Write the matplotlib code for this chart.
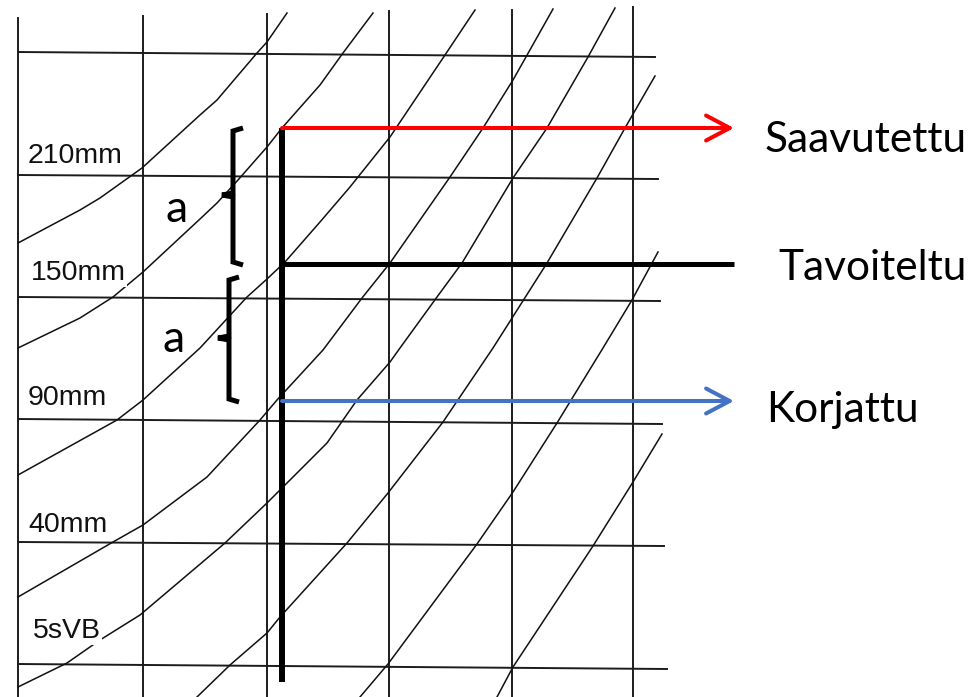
import matplotlib
matplotlib.use('Agg')
import matplotlib.pyplot as plt

# Scanned sizing chart (x to the right, y downwards)
grid_x = [18, 143, 267, 389, 512, 633]
grid_x_top = [18, 16, 14, 11, 10, 7]
grid_y_left = [52, 175, 297, 419, 542, 664]
grid_y_right = [57, 179, 301, 424, 546, 669]
grid_x_right = [655, 658, 660, 662, 664, 667]

row_labels = ['210mm', '150mm', '90mm', '40mm', '5sVB']
row_label_x = [28, 31, 28, 28, 33]
row_label_base = [163, 280, 405, 532, 638]

curve_x = [
    [18, 80, 100, 142, 200, 217, 257, 267, 287],
    [18, 80, 113, 143, 200, 217, 238, 267, 282, 320, 343, 373],
    [18, 117, 143, 200, 247, 267, 285, 320, 350, 390, 445, 475],
    [18, 113, 143, 207, 260, 277, 323, 362, 390, 450, 483, 513, 553],
    [18, 67, 100, 140, 225, 267, 280, 327, 357, 390, 400, 437, 462, 513,
     547, 588, 615],
    [197, 230, 267, 280, 347, 388, 443, 493, 547, 597, 625, 655],
    [360, 388, 477, 513, 557, 603, 632, 658],
    [497, 513, 593, 633, 662],
]
curve_y = [
    [243, 210, 198, 168, 115, 100, 53, 42, 13],
    [348, 318, 297, 272, 219, 203, 180, 147, 128, 85, 53, 13],
    [475, 420, 400, 348, 297, 279, 262, 222, 187, 137, 55, 10],
    [597, 542, 525, 477, 420, 400, 350, 298, 263, 177, 128, 80, 9],
    [687, 663, 640, 615, 543, 503, 490, 443, 400, 362, 348, 297, 263, 178,
     128, 57, 8],
    [697, 665, 633, 617, 543, 493, 422, 348, 263, 178, 128, 76],
    [697, 664, 544, 492, 423, 348, 300, 252],
    [697, 667, 546, 482, 434],
]

# Levels marked on the chart
level_x0 = 282
level_x1 = 734
level_bottom = 682
achieved_y = 128
target_y = 264
corrected_y = 401
level_names = ['Saavutettu', 'Tavoiteltu', 'Korjattu']
level_text_x = [765, 778, 766]
level_text_base = [152, 280, 422]

# brackets "a": top, middle, bottom
brace_top = [128, 277]
brace_mid = [195, 338]
brace_bot = [265, 402]
brace_x = [233, 229]
a_x = [177, 174]
a_base = [222, 352]

fig = plt.figure(figsize=(9.8, 6.97), dpi=100)
ax = fig.add_axes([0, 0, 1, 1])
ax.set_xlim(0, 980)
ax.set_ylim(697, 0)
ax.axis('off')

grid_col = '#1c1c1c'
for gx, gt in zip(grid_x, grid_x_top):
    ax.plot([gx, gx], [gt, 697], color=grid_col, lw=1.4)
for yl, yr, xr in zip(grid_y_left, grid_y_right, grid_x_right):
    ax.plot([grid_x[0], xr], [yl, yr], color=grid_col, lw=1.4)

for cx, cy in zip(curve_x, curve_y):
    ax.plot(cx, cy, color='#111111', lw=1.1, solid_joinstyle='round')

for lab, lx, lb in zip(row_labels, row_label_x, row_label_base):
    ax.text(lx, lb, lab, fontsize=20.5, family='Liberation Sans',
            va='baseline', ha='left', color='#111111',
            bbox=dict(facecolor='white', edgecolor='none', pad=0.5))

# level lines
ax.plot([level_x0, level_x0], [achieved_y, level_bottom], color='black',
        lw=4.3, solid_capstyle='butt')
ax.plot([level_x0, level_x1], [target_y, target_y], color='black', lw=3.6,
        solid_capstyle='butt')
arrow_style = '->,head_length=0.85,head_width=0.45'
for ly, col in [(achieved_y, '#ff0000'), (corrected_y, '#4472c4')]:
    ax.annotate('', xy=(level_x1, ly), xytext=(level_x0, ly),
                arrowprops=dict(arrowstyle=arrow_style, color=col, lw=2.9,
                                shrinkA=0, shrinkB=0, mutation_scale=20,
                                capstyle='round', joinstyle='round'))

for name, tx, tb in zip(level_names, level_text_x, level_text_base):
    ax.text(tx, tb, name, fontsize=30.5, family='Lato', va='baseline',
            ha='left', color='black')

# brackets with "a"
for bt, bm, bb, bx in zip(brace_top, brace_mid, brace_bot, brace_x):
    ax.plot([bx + 10, bx, bx, bx - 11, bx, bx, bx + 10],
            [bt, bt + 3, bm - 2, bm, bm + 2, bb - 3, bb],
            color='black', lw=3.6, solid_joinstyle='miter',
            solid_capstyle='butt')
for axx, ab in zip(a_x, a_base):
    ax.text(axx, ab, 'a', fontsize=32, family='Lato', va='baseline',
            ha='center', color='black')

fig.savefig('out.png', dpi=100)
